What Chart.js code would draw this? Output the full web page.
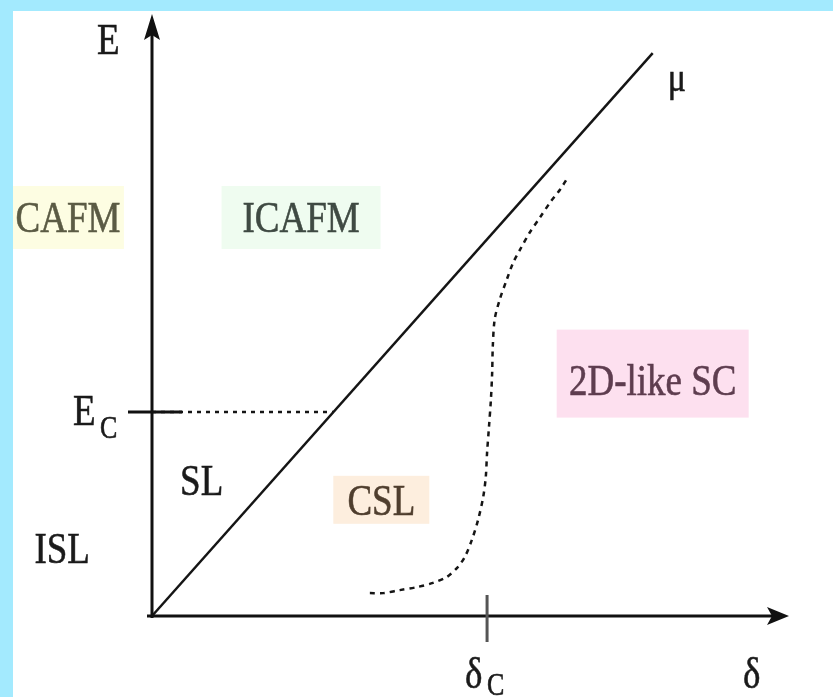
<!DOCTYPE html>
<html>
<head>
<meta charset="utf-8">
<script src="https://cdn.jsdelivr.net/npm/chart.js@4.4.1/dist/chart.umd.min.js"></script>
<style>
  html, body { margin: 0; padding: 0; background: #a3eafe; }
  canvas { display: block; }
</style>
</head>
<body>
<canvas id="phase" width="833" height="697"></canvas>
<script>
// Schematic phase diagram: energy E versus doping δ (both in units of axis length)
const muDelta = [0, 0.786];
const muEnergy = [0, 0.935];

const Ec = 0.339;
const deltaC = 0.526;
const ecLineDelta = [0, 0.285];

// Crossover (dotted) curve separating CSL and 2D-like SC
const crossDelta  = [0.342, 0.363, 0.389, 0.416, 0.441, 0.463, 0.479, 0.491, 0.502, 0.512, 0.520, 0.524, 0.526,
                     0.529, 0.532, 0.534, 0.535, 0.538, 0.546, 0.557, 0.567, 0.578, 0.593, 0.609, 0.625, 0.641, 0.653];
const crossEnergy = [0.038, 0.038, 0.043, 0.048, 0.055, 0.065, 0.080, 0.098, 0.126, 0.160, 0.198, 0.231, 0.271,
                     0.314, 0.359, 0.404, 0.448, 0.493, 0.526, 0.559, 0.587, 0.609, 0.637, 0.662, 0.687, 0.709, 0.729];

// Region names and where they sit in the (δ, E) plane
const regionNames  = ['CAFM', 'ICAFM', 'SL', 'ISL', 'CSL', '2D-like SC'];
const regionDelta  = [-0.132, 0.234, 0.078, -0.141, 0.360, 0.786];
const regionEnergy = [0.662, 0.662, 0.225, 0.113, 0.193, 0.391];

// Appearance of each region label
const regionStyle = {
  'CAFM':       { color: '#5b5b44', box: '#fdfde2', w: 112, h: 63 },
  'ICAFM':      { color: '#3f4a43', box: '#effcf0', w: 159, h: 63 },
  'SL':         { color: '#1a1a1a' },
  'ISL':        { color: '#1a1a1a' },
  'CSL':        { color: '#4f3e2e', box: '#fdeede', w: 96,  h: 48 },
  '2D-like SC': { color: '#5e3d4f', box: '#fde0ef', w: 192, h: 88, dy: -7 }
};

const SERIF = '"Liberation Serif", "Times New Roman", Tinos, serif';
const STRETCH = 1.2;

function toPoints(xs, ys) { return xs.map((x, i) => ({ x: x, y: ys[i] })); }

// Draws text whose capital letters are vertically centred on y (or sit on baseline y)
function drawText(ctx, text, x, y, size, color, align, byBaseline) {
  ctx.save();
  ctx.font = size + 'px ' + SERIF;
  ctx.fillStyle = color;
  ctx.strokeStyle = color;
  ctx.lineWidth = 0.5;
  ctx.textAlign = align || 'left';
  ctx.textBaseline = 'alphabetic';
  const base = byBaseline ? y : y + 0.662 * size * STRETCH / 2;
  ctx.translate(x, base);
  ctx.scale(1, STRETCH);
  ctx.fillText(text, 0, 0);
  ctx.strokeText(text, 0, 0);
  ctx.restore();
}

const diagramPlugin = {
  id: 'diagram',
  beforeDraw(chart) {
    const ctx = chart.ctx;
    ctx.save();
    ctx.fillStyle = '#a3eafe';
    ctx.fillRect(0, 0, chart.width, chart.height);
    ctx.fillStyle = '#ffffff';
    ctx.fillRect(13, 11, chart.width - 13, chart.height - 11);
    ctx.restore();
  },
  beforeDatasetsDraw(chart) {
    const ctx = chart.ctx;
    const xs = chart.scales.x, ys = chart.scales.y;
    ctx.save();
    regionNames.forEach((name, i) => {
      const st = regionStyle[name];
      if (!st.box) return;
      const px = xs.getPixelForValue(regionDelta[i]);
      const py = ys.getPixelForValue(regionEnergy[i]) + (st.dy || 0);
      ctx.fillStyle = st.box;
      ctx.fillRect(px - st.w / 2, py - st.h / 2, st.w, st.h);
    });
    // keep the left frame strip on top of the boxes
    ctx.fillStyle = '#a3eafe';
    ctx.fillRect(0, 0, 13, chart.height);
    ctx.restore();
  },
  afterDatasetsDraw(chart) {
    const ctx = chart.ctx;
    const xs = chart.scales.x, ys = chart.scales.y;
    const x0 = xs.getPixelForValue(0), y0 = ys.getPixelForValue(0);
    const xEnd = xs.getPixelForValue(1), yEnd = ys.getPixelForValue(1);
    ctx.save();
    ctx.strokeStyle = '#111';
    ctx.fillStyle = '#111';
    ctx.lineWidth = 3;
    ctx.lineCap = 'butt';
    // δ axis
    ctx.beginPath();
    ctx.moveTo(x0 - 5, y0);
    ctx.lineTo(xEnd - 12, y0);
    ctx.stroke();
    ctx.beginPath();
    ctx.moveTo(xEnd, y0);
    ctx.lineTo(xEnd - 22, y0 - 9);
    ctx.lineTo(xEnd - 17, y0);
    ctx.lineTo(xEnd - 22, y0 + 9);
    ctx.closePath();
    ctx.fill();
    // E axis
    ctx.beginPath();
    ctx.moveTo(x0, y0 + 2);
    ctx.lineTo(x0, yEnd + 12);
    ctx.stroke();
    ctx.beginPath();
    ctx.moveTo(x0, yEnd);
    ctx.lineTo(x0 - 8, yEnd + 26);
    ctx.lineTo(x0, yEnd + 21);
    ctx.lineTo(x0 + 8, yEnd + 26);
    ctx.closePath();
    ctx.fill();
    // Ec tick
    const yEc = ys.getPixelForValue(Ec);
    ctx.beginPath();
    ctx.moveTo(x0 - 24, yEc);
    ctx.lineTo(x0 + 30, yEc);
    ctx.stroke();
    // δc tick
    const xDc = xs.getPixelForValue(deltaC);
    ctx.strokeStyle = '#555';
    ctx.beginPath();
    ctx.moveTo(xDc, y0 - 21);
    ctx.lineTo(xDc, y0 + 26);
    ctx.stroke();
    ctx.restore();
  },
  afterDraw(chart) {
    const ctx = chart.ctx;
    const xs = chart.scales.x, ys = chart.scales.y;
    const x0 = xs.getPixelForValue(0), y0 = ys.getPixelForValue(0);
    const xEnd = xs.getPixelForValue(1), yEnd = ys.getPixelForValue(1);
    const ink = '#1a1a1a';
    // region names
    regionNames.forEach((name, i) => {
      const st = regionStyle[name];
      drawText(ctx, name, xs.getPixelForValue(regionDelta[i]), ys.getPixelForValue(regionEnergy[i]),
               37, st.color, 'center');
    });
    // axis names
    drawText(ctx, 'E', x0 - 55, yEnd + 25, 37, ink, 'left');
    drawText(ctx, 'δ', xEnd - 46, y0 + 72, 37, ink, 'left', true);
    // Ec label
    const yEc = ys.getPixelForValue(Ec);
    drawText(ctx, 'E', x0 - 79, yEc + 13, 37, ink, 'left', true);
    drawText(ctx, 'C', x0 - 52, yEc + 26, 26, ink, 'left', true);
    // δc label
    const xDc = xs.getPixelForValue(deltaC);
    drawText(ctx, 'δ', xDc - 22, y0 + 72, 37, ink, 'left', true);
    drawText(ctx, 'C', xDc + 0, y0 + 79, 26, ink, 'left', true);
    // μ label at the end of the line
    drawText(ctx, 'μ', xs.getPixelForValue(muDelta[1]) + 15, ys.getPixelForValue(muEnergy[1]) + 38, 34, ink, 'left', true);
  }
};

new Chart(document.getElementById('phase'), {
  type: 'scatter',
  data: {
    datasets: [
      {
        label: 'μ',
        data: toPoints(muDelta, muEnergy),
        showLine: true,
        borderColor: '#151515',
        borderWidth: 2.5,
        pointRadius: 0,
        clip: false
      },
      {
        label: 'Ec',
        data: toPoints(ecLineDelta, [Ec, Ec]),
        showLine: true,
        borderColor: '#151515',
        borderWidth: 2.5,
        borderDash: [4, 5],
        pointRadius: 0,
        clip: false
      },
      {
        label: 'crossover',
        data: toPoints(crossDelta, crossEnergy),
        showLine: true,
        borderColor: '#151515',
        borderWidth: 2.5,
        borderDash: [5, 5],
        tension: 0.3,
        pointRadius: 0,
        clip: false
      }
    ]
  },
  options: {
    responsive: false,
    animation: false,
    events: [],
    layout: { padding: { left: 152, right: 44, top: 14, bottom: 81 } },
    scales: {
      x: { type: 'linear', min: 0, max: 1, display: false },
      y: { type: 'linear', min: 0, max: 1, display: false }
    },
    plugins: {
      legend: { display: false },
      tooltip: { enabled: false }
    }
  },
  plugins: [diagramPlugin]
});
</script>
</body>
</html>
